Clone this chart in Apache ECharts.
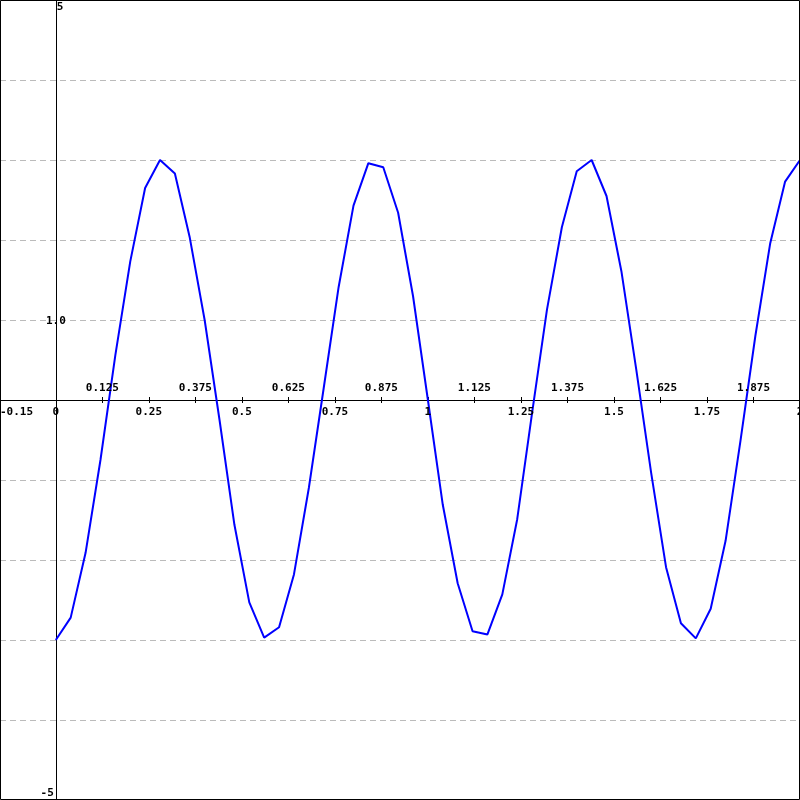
<!DOCTYPE html>
<html>
<head>
<meta charset="utf-8">
<script src="https://cdn.jsdelivr.net/npm/echarts@6/dist/echarts.min.js"></script>
<style>
html,body{margin:0;padding:0;background:#fff;}
#main{width:800px;height:800px;}
</style>
</head>
<body>
<div id="main"></div>
<script>
const xValues = [0.00,0.04,0.08,0.12,0.16,0.20,0.24,0.28,0.32,0.36,0.40,0.44,0.48,0.52,0.56,0.60,0.64,0.68,0.72,0.76,0.80,0.84,0.88,0.92,0.96,1.00,1.04,1.08,1.12,1.16,1.20,1.24,1.28,1.32,1.36,1.40,1.44,1.48,1.52,1.56,1.60,1.64,1.68,1.72,1.76,1.80,1.84,1.88,1.92,1.96,2.00];
const yValues = [-3.00,-2.72,-1.91,-0.75,0.56,1.73,2.65,3.00,2.83,2.03,1.00,-0.25,-1.56,-2.53,-2.97,-2.84,-2.18,-1.10,0.15,1.41,2.43,2.96,2.91,2.34,1.30,0.00,-1.31,-2.29,-2.89,-2.93,-2.43,-1.49,-0.16,1.13,2.16,2.86,3.00,2.55,1.61,0.38,-0.91,-2.09,-2.79,-2.98,-2.61,-1.76,-0.51,0.80,1.96,2.73,3.00];
const xLabelsBelow = ['-0.15','0','0.25','0.5','0.75','1','1.25','1.5','1.75','2'];
const xLabelsAbove = ['0.125','0.375','0.625','0.875','1.125','1.375','1.625','1.875'];
const xTicks = [0,0.125,0.25,0.375,0.5,0.625,0.75,0.875,1,1.125,1.25,1.375,1.5,1.625,1.75,1.875,2];
const yLabels = [{v:5,t:'5'},{v:1,t:'1.0'},{v:-5,t:'-5'}];

const FONT = '"DejaVu Sans Mono", "Liberation Mono", monospace';
const chart = echarts.init(document.getElementById('main'), null, {renderer:'canvas'});
const data = xValues.map((x,i)=>[x, yValues[i]]);

chart.setOption({
  animation:false,
  backgroundColor:'#fff',
  grid:{left:0,right:0,top:0,bottom:0,outerBoundsMode:'none',containLabel:false,show:false},
  xAxis:[{
    type:'value', min:-0.15, max:2, position:'bottom',
    axisLine:{show:true,onZero:true,onZeroAxisIndex:0,lineStyle:{color:'#000',width:1}},
    axisTick:{show:true,customValues:xTicks,length:3,lineStyle:{color:'#000',width:1}},
    axisLabel:{show:false},
    splitLine:{show:false}
  },{
    type:'value', min:-0.15, max:2, position:'top',
    axisLine:{show:false,onZero:true,onZeroAxisIndex:0},
    axisTick:{show:true,customValues:xTicks,length:3,lineStyle:{color:'#000',width:1}},
    axisLabel:{show:false},
    splitLine:{show:false}
  }],
  yAxis:{
    type:'value', min:-5, max:5, interval:1,
    axisLine:{show:true,onZero:true,lineStyle:{color:'#000',width:1}},
    axisTick:{show:false},
    axisLabel:{show:false},
    splitLine:{show:true,lineStyle:{color:'#bbbbbb',width:1,type:[6,4]}}
  },
  series:[{
    type:'line', xAxisIndex:0, yAxisIndex:0, data:data,
    showSymbol:false, symbol:'none', smooth:false,
    lineStyle:{color:'#0000ff',width:2}, z:5
  }]
});

const F = 'bold 11px ' + FONT;
const yAxisX = chart.convertToPixel({xAxisIndex:0}, 0);
const xAxisY = chart.convertToPixel({yAxisIndex:0}, 0);
const graphics = [{type:'rect',z:20,silent:true,shape:{x:0.5,y:0.5,width:799,height:799},style:{fill:null,stroke:'#000',lineWidth:1}}];
yLabels.forEach(l=>{
  const py = chart.convertToPixel({yAxisIndex:0}, l.v);
  let align='center', vAlign='middle', x=yAxisX, y=py+1;
  if (l.v===5){align='left';vAlign='top';x=yAxisX+1;y=py+2;}
  else if (l.v===-5){align='right';vAlign='bottom';x=yAxisX-2;y=py-1;}
  graphics.push({type:'text',x:x,y:y,z:10,style:{text:l.t,fill:'#000',font:F,align:align,verticalAlign:vAlign}});
});
xLabelsBelow.forEach((t,i)=>{
  const px = chart.convertToPixel({xAxisIndex:0}, parseFloat(t));
  const first = i===0;
  graphics.push({type:'text',x:first?0:px,y:xAxisY+12,z:10,style:{text:t,fill:'#000',font:F,align:first?'left':'center',verticalAlign:'middle'}});
});
xLabelsAbove.forEach(t=>{
  const px = chart.convertToPixel({xAxisIndex:0}, parseFloat(t));
  graphics.push({type:'text',x:px,y:xAxisY-12,z:10,style:{text:t,fill:'#000',font:F,align:'center',verticalAlign:'middle'}});
});
chart.setOption({graphic:graphics});
</script>
</body>
</html>
